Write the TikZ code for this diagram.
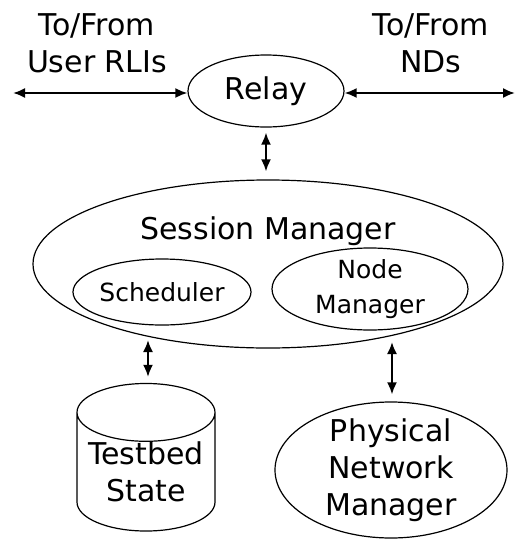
\documentclass[tikz,border=0pt]{standalone}
\usepackage{fontspec}
\setmainfont{DejaVu Sans}
\usepackage{tikz}
\usetikzlibrary{arrows.meta}
\usetikzlibrary{shapes.geometric}

\tikzset{
  blob/.style={ellipse, draw, line width=1.2pt, inner sep=-15pt},
  dbl/.style={{Latex[length=12pt,width=10pt]}-{Latex[length=12pt,width=10pt]}, line width=2pt},
  big/.style={font=\fontsize{30}{37}\selectfont, align=center},
  small/.style={font=\fontsize{25}{35}\selectfont, align=center},
}

\begin{document}
\begin{tikzpicture}[x=1pt, y=-1pt]
\useasboundingbox (0,0) rectangle (520,541);
\node [big] (rli) at (97,43) {To/From\\User RLIs};
\node [big] (nds) at (431,43) {To/From\\NDs};
\node [blob, big, minimum width=156pt, minimum height=72pt] (relay) at (266,91) {Relay};
\node [blob, minimum width=470pt, minimum height=168pt] (sm) at (268,264) {};
\node [big] (smlabel) at (268,231) {Session Manager};
\node [blob, small, minimum width=178pt, minimum height=66pt] (sched) at (162,292) {Scheduler};
\node [blob, small, minimum width=196pt, minimum height=82pt] (nm) at (370,289) {Node\\Manager};
\node [cylinder, shape border rotate=90, draw, line width=1.2pt, aspect=0.5, minimum width=138pt, minimum height=138pt, inner sep=0pt, big] (state) at (146,472) {Testbed\\State};
\node [blob, big, minimum width=232pt, minimum height=136pt] (pnm) at (391,470) {Physical\\Network\\Manager};
\coordinate (west) at (13,93);
\coordinate (east) at (515,93);
\coordinate (smL) at (148,340);
\coordinate (smR) at (392,342);
\draw [dbl] (west) to (west -| relay.west);
\draw [dbl] (east -| relay.east) to (east);
\draw [dbl, shorten <=5pt, shorten >=8pt] (relay.south) to (relay.south |- sm.north);
\draw [dbl, shorten >=6pt] (smL) to (smL |- state.north);
\draw [dbl, shorten >=7pt] (smR) to (smR |- pnm.north);
\end{tikzpicture}
\end{document}
